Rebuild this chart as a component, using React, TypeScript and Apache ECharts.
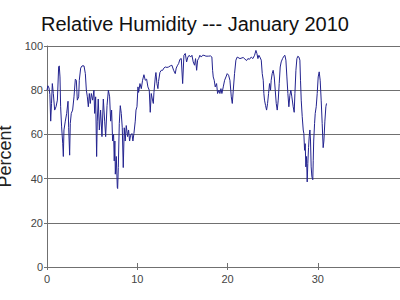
import React, { useEffect, useRef } from "react";
import * as echarts from "echarts";

const titleText = "Relative Humidity --- January 2010";
const yAxisName = "Percent";
const xTicks = [0, 10, 20, 30, 40];
const yTicks = [0, 20, 40, 60, 80, 100];

const days = [
  0, 0.1, 0.22, 0.32, 0.41, 0.5, 0.59, 0.7, 0.85, 1.0, 1.15, 1.29, 1.36, 1.44, 1.51, 1.62, 1.74, 1.81, 1.88,
  2.03, 2.18, 2.33, 2.4, 2.51, 2.58, 2.69, 2.84, 2.99, 3.14, 3.25, 3.36, 3.51, 3.58, 3.73, 3.88, 4.1, 4.25,
  4.36, 4.47, 4.58, 4.69, 4.8, 4.91, 5.06, 5.2, 5.28, 5.39, 5.5, 5.57, 5.68, 5.8, 5.94, 6.09, 6.24, 6.39,
  6.5, 6.65, 6.8, 6.94, 7.05, 7.16, 7.27, 7.38, 7.45, 7.52, 7.57, 7.68, 7.79, 7.83, 7.9, 8.01, 8.12, 8.23,
  8.34, 8.45, 8.56, 8.67, 8.78, 8.93, 9.04, 9.15, 9.26, 9.41, 9.52, 9.63, 9.78, 9.86, 9.97, 10.08, 10.15,
  10.3, 10.45, 10.59, 10.74, 10.89, 11.04, 11.18, 11.33, 11.44, 11.55, 11.67, 11.78, 11.85, 12.0, 12.07,
  12.18, 12.29, 12.36, 12.51, 12.66, 12.81, 12.95, 13.1, 13.29, 13.47, 13.66, 13.84, 14.03, 14.21, 14.32,
  14.47, 14.58, 14.73, 14.88, 15.03, 15.17, 15.32, 15.47, 15.61, 15.76, 15.91, 16.06, 16.2, 16.35, 16.46,
  16.58, 16.69, 16.8, 16.94, 17.09, 17.24, 17.39, 17.61, 17.87, 18.12, 18.27, 18.35, 18.42, 18.53, 18.64,
  18.79, 18.9, 19.05, 19.16, 19.27, 19.38, 19.53, 19.68, 19.83, 19.97, 20.12, 20.27, 20.42, 20.53, 20.64,
  20.78, 20.93, 21.08, 21.38, 21.74, 22.11, 22.26, 22.44, 22.63, 22.81, 23.0, 23.15, 23.26, 23.37, 23.48,
  23.59, 23.74, 23.85, 23.96, 24.03, 24.1, 24.22, 24.33, 24.44, 24.55, 24.66, 24.77, 24.84, 24.95, 25.06,
  25.18, 25.29, 25.4, 25.51, 25.62, 25.73, 25.84, 25.95, 26.1, 26.25, 26.36, 26.47, 26.58, 26.69, 26.8,
  26.91, 27.02, 27.13, 27.28, 27.39, 27.47, 27.58, 27.69, 27.8, 27.91, 28.02, 28.09, 28.17, 28.28, 28.39,
  28.46, 28.54, 28.61, 28.68, 28.76, 28.83, 28.9, 28.98, 29.05, 29.13, 29.2, 29.27, 29.35, 29.45, 29.5,
  29.55, 29.65, 29.72, 29.83, 29.94, 30.05, 30.16, 30.27, 30.38, 30.49, 30.6, 30.68, 30.79, 30.9, 30.97,
];

const humidity = [
  80, 82, 81, 78, 66, 74, 83, 78.5, 71, 72.5, 75.5, 90.5, 91, 86, 72.5, 63.4, 56, 50, 62,
  66, 69.5, 75, 63, 50.6, 65, 69.5, 71, 77, 85, 84.5, 75.5, 77, 84.5, 90, 91, 91, 87.5,
  80, 77, 72.5, 78.5, 74, 78.5, 75.5, 80, 69.5, 77, 50, 66, 76, 62, 71, 59, 76, 66,
  59, 73, 80, 77, 66, 71, 57, 60, 48, 57, 42, 50, 36, 35.5, 45, 65, 73, 69.5,
  63, 45, 63, 57, 64, 59, 62, 57, 59.6, 60.4, 57, 60.4, 66, 71, 72.5, 81.5, 79,
  83, 80.7, 84.5, 87, 84.5, 85, 81.5, 80, 70, 78.5, 76, 74, 79, 86, 88,
  83, 80.7, 84, 88, 89, 89, 90, 90.5, 90.3, 90.5, 91, 91.3, 89, 87.5, 90,
  91.3, 92, 94, 94.3, 83, 95.8, 96.6, 92.8, 95, 95.8, 95, 95.8, 92.8, 91.3, 94.3,
  89, 93.6, 94.3, 95.8, 95, 95.8, 95.8, 95.4, 95.4, 95.5, 95, 89, 86, 84.5, 81.5,
  83, 78.5, 80, 78.5, 80.7, 78.5, 81.5, 84.5, 86, 87.5, 86.8, 84.5, 77, 74, 80,
  87.5, 93.6, 95, 94.3, 94.8, 93.4, 94.3, 94, 95, 94.3, 95.8, 98, 96.6, 94.3, 95.8,
  95, 93.6, 87.5, 84.5, 78.5, 75.5, 73, 71, 74, 78.5, 83, 80, 84.5, 87.5, 89,
  86, 80, 74, 71, 75.5, 83, 90.5, 92.8, 94.3, 95.4, 95.8, 93.6, 86, 78.5, 72.5,
  77.7, 80, 77, 72.5, 70, 78.5, 89, 94.3, 95.4, 95, 93.6, 84.5, 75.5, 68, 62,
  60.4, 52.8, 55.8, 45.3, 50, 38.5, 46.8, 54, 58.9, 62, 57, 45.3, 40.8, 39.5, 48.3,
  57, 65, 69.5, 72.5, 78.5, 86, 88.3, 84.5, 75.5, 65, 54, 57, 66, 72.5, 74,
];

const FONT = "'Liberation Sans', Arial, sans-serif";
const GREY = "#707070";

export default function App() {
  const ref = useRef<HTMLDivElement>(null);

  useEffect(() => {
    if (!ref.current) return;
    const chart = echarts.init(ref.current, null, { renderer: "svg" });
    const data = days.map((d, i) => [d, humidity[i]]);
    const xMin = xTicks[0];
    const xMax = xTicks[xTicks.length - 1];
    const xInt = xTicks[1] - xTicks[0];
    const yMin = yTicks[0];
    const yMax = yTicks[yTicks.length - 1];
    const yInt = yTicks[1] - yTicks[0];
    chart.setOption({
      animation: false,
      backgroundColor: "#ffffff",
      title: {
        text: titleText,
        left: 190,
        textAlign: "center",
        top: 9,
        textStyle: { fontFamily: FONT, fontSize: 20, fontWeight: "normal", color: "#111" },
      },
      grid: { left: 47, right: 12, top: 46, bottom: 33, containLabel: false, outerBoundsMode: "none" },
      xAxis: [
        {
          type: "value",
          min: xMin,
          max: xMax,
          interval: xInt,
          axisLine: { show: true, lineStyle: { color: GREY, width: 1 } },
          axisTick: { show: true, inside: true, length: 4, lineStyle: { color: GREY } },
          splitLine: { show: false },
          axisLabel: { margin: 6, fontFamily: FONT, fontSize: 11, color: "#444", showMaxLabel: false },
        },
        {
          type: "value",
          position: "bottom",
          min: xMin,
          max: xMax,
          interval: xInt,
          axisLine: { show: false },
          axisTick: { show: true, inside: false, length: 3, lineStyle: { color: GREY } },
          splitLine: { show: false },
          axisLabel: { show: false },
        },
      ],
      yAxis: {
        type: "value",
        min: yMin,
        max: yMax,
        interval: yInt,
        name: yAxisName,
        nameLocation: "middle",
        nameGap: 30,
        nameTextStyle: { fontFamily: FONT, fontSize: 18, color: "#222" },
        axisLine: { show: true, lineStyle: { color: GREY, width: 1 } },
        axisTick: { show: true, length: 3, lineStyle: { color: GREY } },
        splitLine: { show: true, lineStyle: { color: GREY, width: 1 } },
        axisLabel: { margin: 4, fontFamily: FONT, fontSize: 11, color: "#444" },
      },
      series: [
        {
          type: "line",
          data,
          xAxisIndex: 0,
          showSymbol: false,
          symbol: "none",
          lineStyle: { color: "#23238f", width: 1 },
        },
      ],
    });
    return () => chart.dispose();
  }, []);

  return (
    <div style={{ position: "fixed", left: 0, top: 0, width: 400, height: 300, overflow: "hidden", background: "#fff" }}>
      <div ref={ref} style={{ width: 420, height: 300 }} />
    </div>
  );
}
